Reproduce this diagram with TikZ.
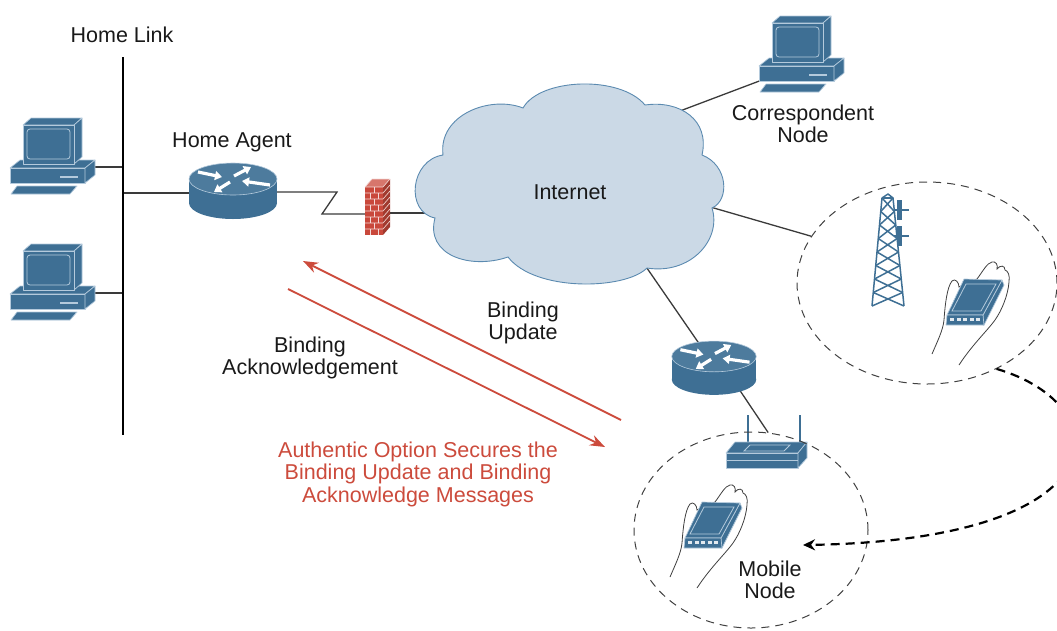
\documentclass[tikz,border=0pt]{standalone}
\usepackage{fontspec}
\setmainfont{Liberation Sans}
\usetikzlibrary{arrows.meta, shapes.geometric, backgrounds}

\definecolor{ciscoblue}{HTML}{3E6F94}
\definecolor{iconedge}{HTML}{B4CADC}
\definecolor{cloudfill}{HTML}{CBD9E6}
\definecolor{cloudedge}{HTML}{5B8AB0}
\definecolor{alertred}{HTML}{CC4B3C}
\definecolor{brickred}{HTML}{C9483B}
\definecolor{linkgray}{HTML}{3A3A3A}

\begin{document}
\begin{tikzpicture}[
  x=1pt, y=-1pt,
  font=\fontsize{21.5}{22.5}\selectfont,
  label/.style={align=center, text=black!90, inner sep=0pt},
  note/.style={align=center, text=alertred, inner sep=0pt},
  link/.style={draw=linkgray, line width=1.3pt},
  wire/.style={draw=black, line width=1.4pt},
  cell/.style={ellipse, draw=black!75, dash pattern=on 8pt off 6pt, line width=1pt, inner sep=0pt},
  roam/.style={draw=black, line width=2.2pt, dash pattern=on 9pt off 6pt, -{Stealth[length=12pt, width=11pt]}},
  flow/.style={draw=alertred, line width=1.8pt, -{Stealth[length=15pt, width=11pt]}},
  icon/.style={fill=ciscoblue, draw=iconedge, line width=0.7pt, line join=round},
  hand/.style={fill=white, draw=black!75, line width=0.8pt},
  mast/.style={draw=ciscoblue, line width=1.5pt, line join=round},
  mortar/.style={draw=white!80!brickred, line width=0.6pt},
  pc/.pic={
    \path[icon] (0,51) -- (10,43) -- (85,43) -- (75,51) -- cycle;
    \path[icon] (0,51) rectangle (75,66);
    \path[icon] (75,51) -- (85,43) -- (85,58) -- (75,66) -- cycle;
    \draw[iconedge, line width=1.2pt] (50,60) -- (68,60);
    \path[icon] (13,8) -- (21,1) -- (72,1) -- (64,8) -- cycle;
    \path[icon] (64,8) -- (72,1) -- (72,40) -- (64,47) -- cycle;
    \path[icon] (13,8) rectangle (64,47);
    \draw[iconedge, line width=0.8pt, rounded corners=3pt] (17,12) rectangle (60,42);
    \path[icon] (7,69) -- (67,69) -- (60,77) -- (1,77) -- cycle;
    \coordinate (-port) at (80,50);
    \coordinate (-west) at (3,65);
  },
  router/.pic={
    \path[fill=ciscoblue] (-44,-11) rectangle (44,13);
    \path[fill=ciscoblue] (0,13) ellipse [x radius=44, y radius=16];
    \path[fill=ciscoblue!92!white, draw=iconedge, line width=0.6pt] (0,-11) ellipse [x radius=44, y radius=16];
    \foreach \xa/\ya/\xb/\yb in {-35/-18/-11/-13, 37/-5/9/-9, 1/-14/18/-23, -3/-8/-19/2}
      \draw[white, line width=3.2pt, -{Triangle[length=7pt, width=9pt]}] (\xa,\ya) -- (\xb,\yb);
    \coordinate (-west) at (-40,3);
    \coordinate (-east) at (40,2);
    \coordinate (-top) at (-7,-12);
    \coordinate (-bottom) at (22,17);
  },
  firewall/.pic={
    \path[fill=brickred!75!white] (-12,-20) -- (-5,-28) -- (13,-28) -- (6,-20) -- cycle;
    \path[fill=brickred] (-12,-20) rectangle (6,28);
    \path[fill=brickred!80!black] (6,-20) -- (13,-28) -- (13,20) -- (6,28) -- cycle;
    \foreach \r in {0,...,7} {
      \draw[mortar] (-12,-20+6*\r) -- (6,-20+6*\r) -- (13,-28+6*\r);
      \ifodd\r
        \draw[mortar] (-7,-20+6*\r) -- (-7,-14+6*\r) (1,-20+6*\r) -- (1,-14+6*\r);
      \else
        \draw[mortar] (-3,-20+6*\r) -- (-3,-14+6*\r);
      \fi
    }
    \draw[mortar] (-12,-20) -- (-5,-28) -- (13,-28);
    \coordinate (-west) at (-7,7);
    \coordinate (-east) at (3,6);
  },
  ap/.pic={
    \draw[ciscoblue, line width=2.6pt] (-18,-8) -- (-18,-41) (34,-14) -- (34,-41);
    \path[icon] (-40,-3) -- (-31,-14) -- (41,-14) -- (32,-3) -- cycle;
    \path[icon] (-40,-3) rectangle (32,12);
    \path[icon] (32,-3) -- (41,-14) -- (41,2) -- (32,12) -- cycle;
    \draw[iconedge, line width=0.8pt] (-22,-5) -- (-16,-11) -- (24,-11) -- (18,-5) -- cycle;
    \draw[iconedge, line width=0.8pt] (-40,4) -- (32,4);
  },
  tower/.pic={
    \foreach \k in {0,...,7} {
      \pgfmathsetmacro\ya{-13.5*\k}
      \pgfmathsetmacro\yb{-13.5*(\k+1)}
      \pgfmathsetmacro\la{-16+1.25*\k}
      \pgfmathsetmacro\lb{-16+1.25*(\k+1)}
      \pgfmathsetmacro\ra{16-1.375*\k}
      \pgfmathsetmacro\rb{16-1.375*(\k+1)}
      \draw[mast] (\la,\ya) -- (\rb,\yb) (\ra,\ya) -- (\lb,\yb);
    }
    \draw[mast] (-16,0) -- (-6,-108) -- (0,-112) -- (5,-108) -- (16,0);
    \draw[mast] (-6,-108) -- (5,-108);
    \foreach \h in {-96,-70} {
      \draw[mast] (6,\h) -- (21,\h);
      \fill[ciscoblue] (9,\h-10) rectangle (14,\h+10);
    }
  },
  handheld/.pic={
    \path[hand] (-15,39) .. controls (-9,25) and (-4,15) .. (-3,5)
      .. controls (-2,-10) and (0,-28) .. (5,-34)
      .. controls (8,-37) and (12,-33) .. (12,-28)
      -- (30,-36)
      .. controls (36,-44) and (40,-52) .. (45,-53)
      .. controls (49,-54) and (51,-50) .. (50,-46)
      .. controls (53,-50) and (58,-50) .. (58,-45)
      .. controls (61,-44) and (63,-40) .. (62,-33)
      .. controls (61,-20) and (55,-5) .. (48,5)
      .. controls (40,16) and (25,30) .. (12,50);
    \path[icon] (36,0) -- (55,-35) -- (57,-30) -- (37,10) -- (36,10) -- cycle;
    \path[icon] (0,0) -- (17,-36) -- (55,-35) -- (36,0) -- cycle;
    \draw[iconedge, line width=0.8pt] (5,-4) -- (19,-31) -- (49,-31) -- (34,-4) -- cycle;
    \path[icon] (0,0) -- (36,0) -- (37,10) -- (-1,10) -- cycle;
    \foreach \i in {0,...,4}
      \fill[white!85!ciscoblue] (3+6.5*\i,3) rectangle ++(4,3);
  }
]
\useasboundingbox (0,0) rectangle (1057,630);

\coordinate (linktop) at (123,57);
\coordinate (linkbot) at (123,435);
\draw[wire] (linktop) -- (linkbot);
\node[label] (linklbl) at (122,35) {Home Link};

\pic (pc1) at (10,117) {pc};
\pic (pc2) at (10,243) {pc};
\pic (ha) at (233,190) {router};
\node[label] (halbl) at (232,142) {Home Agent};
\pic (fw) at (377,207) {firewall};

\path[fill=cloudfill, draw=cloudedge, line width=0.9pt]
  (435,218) .. controls (405,212) and (410,160) .. (443,155)
  .. controls (438,115) and (490,95) .. (523,108)
  .. controls (540,78) and (620,75) .. (645,105)
  .. controls (680,100) and (710,120) .. (702,155)
  .. controls (728,165) and (730,200) .. (712,208)
  .. controls (722,240) and (690,275) .. (647,268)
  .. controls (625,290) and (535,292) .. (508,257)
  .. controls (470,270) and (425,255) .. (435,218) -- cycle;
\node[label] (net) at (570,192) {Internet};
\coordinate (net-fw) at (432,213);
\coordinate (net-cn) at (672,114);
\coordinate (net-cell) at (700,204);
\coordinate (net-ar) at (640,258);

\pic (cn) at (759,15) {pc};
\node[label] (cnlbl) at (803,124) {Correspondent\\Node};

\node[cell, minimum width=260pt, minimum height=202pt] (farcell) at (927,283) {};
\pic (bts) at (888,306) {tower};
\pic (oldmn) at (947,315) {handheld};

\pic[scale=0.96] (ar) at (714,367) {router};
\pic (ap) at (766,456) {ap};
\node[cell, minimum width=234pt, minimum height=196pt] (hotspot) at (751,530) {};
\pic (mn) at (685,538) {handheld};
\node[label] (mnlbl) at (770,580) {Mobile\\Node};

\begin{scope}[on background layer]
\draw[link] (pc1-port) -- (pc1-port -| linktop);
\draw[link] (pc2-port) -- (pc2-port -| linktop);
\draw[link] (ha-west) -- (ha-west -| linktop);
\draw[link] (ha-east) -- ++(64,0) -- ++(-15,22) -- (fw-west);
\draw[link] (fw-east) -- (net-fw);
\draw[link] (net-cn) -- (cn-west);
\draw[link] (net-cell) -- (farcell.158);
\draw[link] (net-ar) -- (ar-top);
\draw[link] (ar-bottom) -- (hotspot.80);
\end{scope}

\coordinate (arrive) at (803,545);
\draw[roam] (farcell.-51) .. controls (1120,405) and (1125,540) .. (arrive);

\coordinate (butail) at (621,420);
\coordinate (buhead) at (303,261);
\coordinate (batail) at (288,289);
\coordinate (bahead) at (605,447);
\draw[flow] (butail) -- (buhead);
\draw[flow] (batail) -- (bahead);
\node[label] (bulbl) at (523,323) {Binding\\Update};
\node[label] (balbl) at (310,358) {Binding\\Acknowledgement};
\node[note] (authlbl) at (418,474) {Authentic Option Secures the\\Binding Update and Binding\\Acknowledge Messages};
\end{tikzpicture}
\end{document}
